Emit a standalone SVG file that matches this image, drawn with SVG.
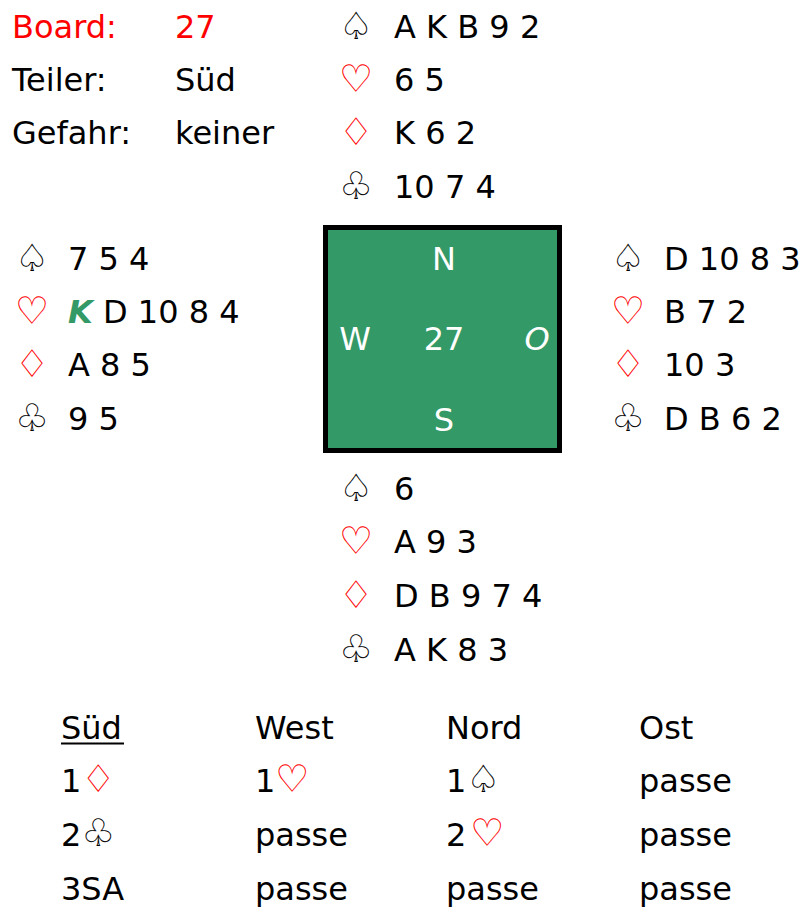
<svg xmlns="http://www.w3.org/2000/svg" width="803" height="909" viewBox="0 0 803 909">
<style>
text{font-family:"DejaVu Sans","Noto Sans",sans-serif;font-size:32px;fill:#000}
.red{fill:#ff0000}
.s{font-size:38px}
.w{fill:#ffffff;text-anchor:middle}
.g{fill:#339966;font-style:italic;font-weight:bold}
</style>
<rect width="803" height="909" fill="#ffffff"/>
<g id="info">
<text x="12" y="38" class="red">Board:</text>
<text x="175" y="38" class="red">27</text>
<text x="12" y="91">Teiler:</text>
<text x="175" y="91">Süd</text>
<text x="12" y="144">Gefahr:</text>
<text x="175" y="144">keiner</text>
</g>
<g id="north">
<text x="339" y="39" class="s">♤</text><text x="394" y="38">A K B 9 2</text>
<text x="339" y="92" class="s red">♡</text><text x="394" y="91">6 5</text>
<text x="339" y="145" class="s red">♢</text><text x="394" y="144">K 6 2</text>
<text x="339" y="199" class="s">♧</text><text x="394" y="198">10 7 4</text>
</g>
<g id="west">
<text x="15" y="271" class="s">♤</text><text x="68" y="270">7 5 4</text>
<text x="15" y="324" class="s red">♡</text><text x="68" y="323"><tspan class="g">K</tspan> D 10 8 4</text>
<text x="15" y="377" class="s red">♢</text><text x="68" y="376">A 8 5</text>
<text x="15" y="431" class="s">♧</text><text x="68" y="430">9 5</text>
</g>
<g id="table">
<rect x="325.5" y="227.5" width="234" height="223" fill="#339966" stroke="#000" stroke-width="5"/>
<text x="444" y="270" class="w">N</text>
<text x="355" y="350" class="w">W</text>
<text x="444" y="350" class="w">27</text>
<text x="537" y="350" class="w" font-style="italic">O</text>
<text x="444" y="431" class="w">S</text>
</g>
<g id="east">
<text x="611" y="271" class="s">♤</text><text x="664" y="270">D 10 8 3</text>
<text x="611" y="324" class="s red">♡</text><text x="664" y="323">B 7 2</text>
<text x="611" y="377" class="s red">♢</text><text x="664" y="376">10 3</text>
<text x="611" y="431" class="s">♧</text><text x="664" y="430">D B 6 2</text>
</g>
<g id="south">
<text x="339" y="501" class="s">♤</text><text x="394" y="500">6</text>
<text x="339" y="554" class="s red">♡</text><text x="394" y="553">A 9 3</text>
<text x="339" y="608" class="s red">♢</text><text x="394" y="607">D B 9 7 4</text>
<text x="339" y="662" class="s">♧</text><text x="394" y="661">A K 8 3</text>
</g>
<g id="bidding">
<text x="61" y="739">Süd</text>
<line x1="61" y1="743.5" x2="124" y2="743.5" stroke="#000" stroke-width="2"/>
<text x="255" y="739">West</text>
<text x="446" y="739">Nord</text>
<text x="639" y="739">Ost</text>
<text x="61" y="792">1<tspan class="s red">♢</tspan></text>
<text x="255" y="792">1<tspan class="s red">♡</tspan></text>
<text x="446" y="792">1<tspan class="s">♤</tspan></text>
<text x="639" y="792">passe</text>
<text x="61" y="846">2<tspan class="s">♧</tspan></text>
<text x="255" y="846">passe</text>
<text x="446" y="846">2<tspan class="s red" dx="4">♡</tspan></text>
<text x="639" y="846">passe</text>
<text x="61" y="900">3SA</text>
<text x="255" y="900">passe</text>
<text x="446" y="900">passe</text>
<text x="639" y="900">passe</text>
</g>
</svg>
